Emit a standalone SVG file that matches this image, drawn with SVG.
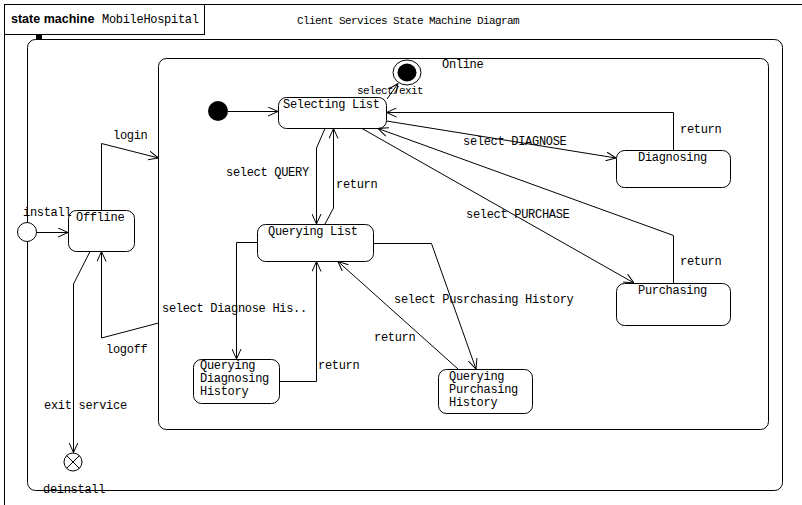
<svg xmlns="http://www.w3.org/2000/svg" width="802" height="505" viewBox="0 0 802 505">
<defs>
<marker id="a" viewBox="0 0 10 10" refX="10" refY="5" markerWidth="10" markerHeight="10" markerUnits="userSpaceOnUse" orient="auto"><path d="M0,0.5 L10,5 L0,9.5" fill="none" stroke="#000" stroke-width="1"/></marker>
<style>
.st{fill:#fff;stroke:#000;stroke-width:1}
.cn{fill:none;stroke:#000;stroke-width:1;marker-end:url(#a)}
.t{font-family:"Liberation Mono",monospace;font-size:12px;letter-spacing:-0.3px;fill:#000}
.s{font-family:"Liberation Mono",monospace;font-size:11px;letter-spacing:-0.6px;fill:#000}
.b{font-family:"Liberation Sans",Arial,sans-serif;font-size:12.5px;font-weight:bold;fill:#000}
</style>
</defs>
<rect width="802" height="505" fill="#fff"/>
<g id="frame">
<path d="M4.5,505 L4.5,4.5 L802,4.5" fill="none" stroke="#000"/>
<rect x="4.5" y="4.5" width="200" height="30" fill="#fff" stroke="#000"/>
<text class="b" x="11" y="23">state machine</text>
<text class="t" x="102" y="23">MobileHospital</text>
<text class="s" x="297" y="24">Client Services State Machine Diagram</text>
</g>
<g id="outer-state">
<rect class="st" x="27.5" y="39.5" width="755" height="451" rx="8"/>
<rect x="36" y="34" width="6" height="5" fill="#000"/>
</g>
<g id="online">
<rect class="st" x="158.5" y="58.5" width="610" height="371" rx="8"/>
<text class="t" x="442" y="68">Online</text>
</g>
<g id="initial">
<circle cx="218" cy="111" r="10" fill="#000"/>
</g>
<g id="final">
<ellipse cx="407" cy="72.5" rx="14" ry="12.5" fill="#fff" stroke="#000"/>
<ellipse cx="407" cy="72.5" rx="9.5" ry="9" fill="#000"/>
</g>
<g id="install-point">
<circle cx="27" cy="232" r="9.5" fill="#fff" stroke="#000"/>
</g>
<g id="exit-point">
<circle cx="73" cy="462" r="9" fill="#fff" stroke="#000"/>
<path d="M66.6,455.6 L79.4,468.4 M79.4,455.6 L66.6,468.4" stroke="#000" fill="none"/>
</g>
<g id="selecting-list">
<rect class="st" x="278.5" y="97.5" width="108" height="31" rx="8"/>
<text class="t" x="283" y="108">Selecting List</text>
</g>
<g id="offline">
<rect class="st" x="68.5" y="210.5" width="66" height="41" rx="8"/>
<text class="t" x="76" y="221">Offline</text>
</g>
<g id="diagnosing">
<rect class="st" x="616.5" y="150.5" width="114" height="37" rx="8"/>
<text class="t" x="638" y="161">Diagnosing</text>
</g>
<g id="purchasing">
<rect class="st" x="616.5" y="283.5" width="114" height="42" rx="8"/>
<text class="t" x="638" y="294">Purchasing</text>
</g>
<g id="querying-list">
<rect class="st" x="257.5" y="224.5" width="116" height="37" rx="8"/>
<text class="t" x="268" y="235">Querying List</text>
</g>
<g id="querying-diagnosing-history">
<rect class="st" x="193.5" y="359.5" width="86" height="44" rx="8"/>
<text class="t" x="200" y="369">Querying</text>
<text class="t" x="200" y="382">Diagnosing</text>
<text class="t" x="200" y="395">History</text>
</g>
<g id="querying-purchasing-history">
<rect class="st" x="438.5" y="369.5" width="94" height="44" rx="8"/>
<text class="t" x="449" y="380">Querying</text>
<text class="t" x="449" y="393">Purchasing</text>
<text class="t" x="449" y="406">History</text>
</g>
<g id="connectors">
<path class="cn" d="M228,111.5 L278,111.5"/>
<path class="cn" d="M387,99 L398,83.5"/>
<path class="cn" d="M36.5,232.5 L68,232.5"/>
<path class="cn" d="M101.5,210 L101.5,143.5 L158.5,158"/>
<path class="cn" d="M158.5,323 L101.5,338 L101.5,251.5"/>
<path class="cn" d="M90,251.5 L73.5,284 L73.5,452.5"/>
<path class="cn" d="M325,128.5 L316.5,148 L316.5,224"/>
<path class="cn" d="M325,224 L333.5,208 L333.5,128.5"/>
<path class="cn" d="M386.5,121 L616,158"/>
<path class="cn" d="M673.5,150 L673.5,112.5 L386.5,112.5"/>
<path class="cn" d="M362,128.5 L634,283"/>
<path class="cn" d="M673.5,283 L673.5,235.5 L378,128.5"/>
<path class="cn" d="M257,242.5 L236.5,242.5 L236.5,359"/>
<path class="cn" d="M279.5,381.5 L316.5,381.5 L316.5,261.5"/>
<path class="cn" d="M373.5,243.5 L431.5,243.5 L476,369"/>
<path class="cn" d="M458,369 L338,261.5"/>
</g>
<g id="labels">
<text class="s" x="357" y="94">select/exit</text>
<text class="t" x="23" y="216">install</text>
<text class="t" x="113" y="139">login</text>
<text class="t" x="106" y="353">logoff</text>
<text class="t" x="44" y="409">exit service</text>
<text class="t" x="43" y="493">deinstall</text>
<text class="t" x="226" y="176">select QUERY</text>
<text class="t" x="336" y="188">return</text>
<text class="t" x="463" y="145">select DIAGNOSE</text>
<text class="t" x="680" y="133">return</text>
<text class="t" x="466" y="218">select PURCHASE</text>
<text class="t" x="680" y="265">return</text>
<text class="t" x="162" y="312">select Diagnose His..</text>
<text class="t" x="318" y="369">return</text>
<text class="t" x="394" y="303">select Pusrchasing History</text>
<text class="t" x="374" y="341">return</text>
</g>
</svg>
